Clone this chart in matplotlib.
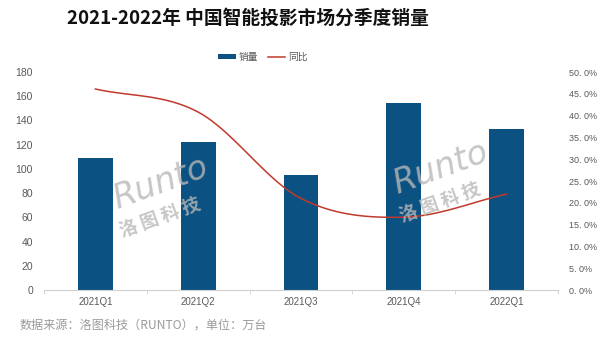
import numpy as np
import matplotlib.pyplot as plt

plt.rcParams['font.family'] = ['Noto Sans CJK SC', 'DejaVu Sans']

# --- data ---
quarters = ['2021Q1', '2021Q2', '2021Q3', '2021Q4', '2022Q1']
sales = [109, 122, 95, 154, 133]          # 万台
yoy = [46.1, 40.8, 21.0, 16.7, 22.0]      # %

bar_color = '#0b5283'
line_color = '#c0392b'
grey = '#595959'


def catmull_rom(x, y, n=30):
    # smooth curve through the points (like Excel's smoothed line)
    x = np.asarray(x, float)
    y = np.asarray(y, float)
    px = np.concatenate([[2 * x[0] - x[1]], x, [2 * x[-1] - x[-2]]])
    py = np.concatenate([[2 * y[0] - y[1]], y, [2 * y[-1] - y[-2]]])
    xs, ys = [], []
    t = np.linspace(0, 1, n)
    for i in range(1, len(px) - 2):
        for p, out in ((px, xs), (py, ys)):
            p0, p1, p2, p3 = p[i - 1], p[i], p[i + 1], p[i + 2]
            out.append(0.5 * (2 * p1 + (-p0 + p2) * t
                              + (2 * p0 - 5 * p1 + 4 * p2 - p3) * t ** 2
                              + (-p0 + 3 * p1 - 3 * p2 + p3) * t ** 3))
    return np.concatenate(xs), np.concatenate(ys)


fig = plt.figure(figsize=(6, 3.42), dpi=100)
ax = fig.add_axes([44 / 600, 52 / 342, 514 / 600, 218 / 342])
x = np.arange(len(quarters))
num_font = ['Liberation Sans', 'DejaVu Sans']

ax.bar(x, sales, width=0.34, color=bar_color, label='销量', zorder=2)
ax.set_ylim(0, 180)
ax.set_yticks(range(0, 181, 20))
ax.set_xlim(-0.5, len(quarters) - 0.5)
ax.set_xticks(x)
ax.set_xticklabels(quarters, fontsize=7, color=grey, family=num_font)
ax.set_xticks(np.arange(-0.5, len(quarters), 1), minor=True)
ax.tick_params(axis='x', which='major', length=0, pad=5)
ax.tick_params(axis='x', which='minor', length=3, color='#d0d0d0')
ax.tick_params(axis='y', length=0, labelsize=7.5, labelcolor=grey, pad=8)
for lab in ax.get_yticklabels():
    lab.set_family(num_font)
for s in ['top', 'right', 'left']:
    ax.spines[s].set_visible(False)
ax.spines['bottom'].set_color('#d0d0d0')

ax2 = ax.twinx()
sx, sy = catmull_rom(x, yoy)
ax2.plot(sx, sy, color=line_color, lw=1.1, label='同比', zorder=3)
ax2.set_ylim(0, 50)
ax2.set_yticks(range(0, 51, 5))
ax2.set_yticklabels([f'{v}. 0%' for v in range(0, 51, 5)], family=num_font)
ax2.tick_params(axis='y', length=0, labelsize=6.5, labelcolor=grey, pad=8)
for s in ['top', 'right', 'left', 'bottom']:
    ax2.spines[s].set_visible(False)

# watermarks
for wx, wy in [(160, 195), (440, 180)]:
    fig.text(wx / 600, 1 - (wy - 12) / 342, 'Runto', fontsize=24, style='italic',
             color='#b8b8b8', alpha=0.8, rotation=20, ha='center', va='center',
             family='DejaVu Sans', zorder=5)
    fig.text(wx / 600, 1 - (wy + 22) / 342, '洛 图 科 技', fontsize=13, fontweight='bold',
             color='#b8b8b8', alpha=0.8, rotation=20, ha='center', va='center', zorder=5)

h1, l1 = ax.get_legend_handles_labels()
h2, l2 = ax2.get_legend_handles_labels()
fig.legend(h1 + h2, l1 + l2, loc='center', bbox_to_anchor=(263 / 600, 1 - 57 / 342), ncol=2,
           frameon=False, fontsize=7, labelcolor=grey, handlelength=1.8,
           handleheight=0.5, columnspacing=1.0, handletextpad=0.3)

fig.text(248 / 600, 1 - 18 / 342, '2021-2022年 中国智能投影市场分季度销量',
         ha='center', va='center', fontsize=13.5, fontweight='bold', color='#111111')
fig.text(20 / 600, 1 - 325 / 342, '数据来源：洛图科技（RUNTO），单位：万台',
         ha='left', va='center', fontsize=8.7, color='#9a9a9a')

fig.savefig('out.png', dpi=100)
